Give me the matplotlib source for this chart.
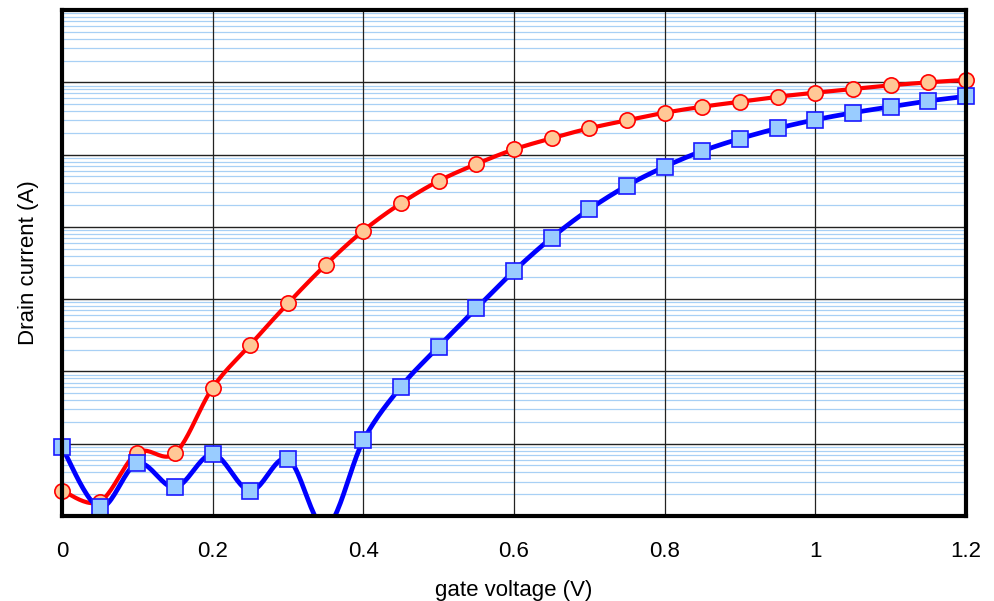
import matplotlib

matplotlib.use("Agg")
import matplotlib.pyplot as plt
import numpy as np
from matplotlib.ticker import LogLocator, NullFormatter

# gate voltage (V) at each measured point
gate_voltage = [0.0, 0.05, 0.1, 0.15, 0.2, 0.25, 0.3, 0.35, 0.4, 0.45, 0.5, 0.55,
                0.6, 0.65, 0.7, 0.75, 0.8, 0.85, 0.9, 0.95, 1.0, 1.05, 1.1, 1.15, 1.2]

# drain current (A), circles / red curve
current_red = [2.24e-10, 1.58e-10, 7.52e-10, 7.36e-10, 5.96e-9, 2.34e-8, 8.75e-8,
               2.99e-7, 8.85e-7, 2.12e-6, 4.31e-6, 7.40e-6, 1.18e-5, 1.68e-5,
               2.31e-5, 2.98e-5, 3.79e-5, 4.59e-5, 5.38e-5, 6.31e-5, 7.18e-5,
               8.07e-5, 9.08e-5, 9.98e-5, 1.08e-4]

# drain current (A), squares / blue curve
current_blue = [8.91e-10, 1.32e-10, 5.36e-10, 2.49e-10, 7.14e-10, 2.24e-10, 6.14e-10,
                7.0e-11, 1.11e-9, 6.15e-9, 2.20e-8, 7.46e-8, 2.45e-7, 7.08e-7,
                1.75e-6, 3.71e-6, 6.79e-6, 1.12e-5, 1.66e-5, 2.31e-5, 3.03e-5,
                3.79e-5, 4.59e-5, 5.51e-5, 6.40e-5]

x_ticks = [0, 0.2, 0.4, 0.6, 0.8, 1.0, 1.2]
x_tick_labels = ["0", "0.2", "0.4", "0.6", "0.8", "1", "1.2"]
y_min, y_max = 1e-10, 1e-3

plt.rcParams["font.family"] = ["Liberation Sans", "DejaVu Sans"]


def smooth_curve(xs, ys, steps=24):
    """Excel-style smoothed line: cubic Bezier through the points (in log-y space)."""
    px = np.asarray(xs, dtype=float)
    py = np.log10(np.asarray(ys, dtype=float))
    n = len(px)
    out_x, out_y = [], []
    t = np.linspace(0, 1, steps)
    for i in range(n - 1):
        a = max(i - 1, 0)
        b = min(i + 2, n - 1)
        c1x = px[i] + (px[i + 1] - px[a]) / 6
        c1y = py[i] + (py[i + 1] - py[a]) / 6
        c2x = px[i + 1] - (px[b] - px[i]) / 6
        c2y = py[i + 1] - (py[b] - py[i]) / 6
        bx = ((1 - t) ** 3 * px[i] + 3 * (1 - t) ** 2 * t * c1x
              + 3 * (1 - t) * t ** 2 * c2x + t ** 3 * px[i + 1])
        by = ((1 - t) ** 3 * py[i] + 3 * (1 - t) ** 2 * t * c1y
              + 3 * (1 - t) * t ** 2 * c2y + t ** 3 * py[i + 1])
        out_x.extend(bx)
        out_y.extend(by)
    return np.array(out_x), 10 ** np.array(out_y)


fig = plt.figure(figsize=(9.94, 6.01), dpi=100, facecolor="white")
ax = fig.add_axes([62 / 994, 1 - 516 / 601, (966 - 62) / 994, (516 - 10) / 601])

series = [
    (current_red, "#ff0000", "o", "#ffc896", "#ff0000", 3.0, 11),
    (current_blue, "#0000ff", "s", "#99ccff", "#1a1aff", 3.4, 11),
]
for values, line_color, marker, face, edge, lw, ms in series:
    sx, sy = smooth_curve(gate_voltage, values)
    ax.plot(sx, sy, color=line_color, linewidth=lw, zorder=3, solid_capstyle="round")
    gv = np.asarray(gate_voltage)
    vals = np.asarray(values)
    inside = (vals >= y_min) & (vals <= y_max)
    ax.plot(gv[inside], vals[inside], linestyle="none", marker=marker,
            markersize=ms, markerfacecolor=face, markeredgecolor=edge,
            markeredgewidth=1.2, zorder=4, clip_on=False)

ax.set_yscale("log")
ax.set_ylim(y_min, y_max)
ax.set_xlim(0, 1.2)

ax.yaxis.set_major_locator(LogLocator(base=10, numticks=20))
ax.yaxis.set_minor_locator(LogLocator(base=10, subs=np.arange(2, 10), numticks=20))
ax.yaxis.set_major_formatter(NullFormatter())
ax.yaxis.set_minor_formatter(NullFormatter())

ax.set_xticks(x_ticks)
ax.set_xticklabels(x_tick_labels, fontsize=16)

ax.grid(True, axis="y", which="minor", color="#a8d0f5", linewidth=0.9)
ax.set_axisbelow(True)
# major grid drawn above the light blue minor lines
for v in ax.get_yticks():
    if y_min < v < y_max:
        ax.axhline(v, color="#222222", linewidth=1.0, zorder=2)
for v in x_ticks[1:-1]:
    ax.axvline(v, color="#222222", linewidth=0.9, zorder=2)

ax.tick_params(axis="x", length=0, pad=18)
ax.tick_params(axis="y", which="major", direction="in", length=5, color="#888888")
ax.tick_params(axis="y", which="minor", length=0)

for spine in ax.spines.values():
    spine.set_linewidth(3.0)
    spine.set_color("black")
    spine.set_zorder(5)

ax.set_xlabel("gate voltage (V)", fontsize=16, labelpad=13)
ax.set_ylabel("Drain current (A)", fontsize=16, labelpad=13)

fig.savefig("out.png", dpi=100, facecolor="white")
